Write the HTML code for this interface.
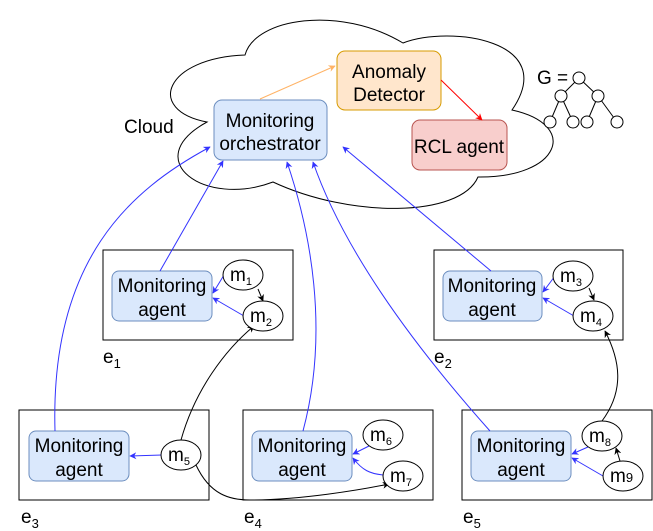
<!DOCTYPE html>
<html><head><meta charset="utf-8"><style>
html,body{margin:0;padding:0;background:#fff}
svg{display:block}
text{font-family:"Liberation Sans",Arial,sans-serif;font-size:19px;fill:#000}
</style></head><body>
<svg width="653" height="531" viewBox="0 0 653 531" xmlns="http://www.w3.org/2000/svg">
<defs>
<marker id="ab" viewBox="0 0 10 10" refX="9" refY="5" markerWidth="7" markerHeight="7" orient="auto"><path d="M0,0 L10,5 L0,10 L3,5 z" fill="#3333ff"/></marker>
<marker id="ak" viewBox="0 0 10 10" refX="9" refY="5" markerWidth="7" markerHeight="7" orient="auto"><path d="M0,0 L10,5 L0,10 L3,5 z" fill="#000"/></marker>
<marker id="ao" viewBox="0 0 10 10" refX="9" refY="5" markerWidth="7" markerHeight="7" orient="auto"><path d="M0,0 L10,5 L0,10 L3,5 z" fill="#ffb366"/></marker>
<marker id="ar" viewBox="0 0 10 10" refX="9" refY="5" markerWidth="7" markerHeight="7" orient="auto"><path d="M0,0 L10,5 L0,10 L3,5 z" fill="#ff0000"/></marker>
</defs>
<path d="M207,122 C145,110 165,58 245,55 C255,18 340,5 403,43 C450,25 560,40 512,110 C580,125 560,178 478,177 C460,218 350,218 273,182 C205,208 138,160 207,122 Z" fill="#fff" stroke="#000" stroke-width="1"/>
<text x="124" y="133">Cloud</text>
<rect x="214" y="100" width="113" height="60" rx="8" fill="#dae8fc" stroke="#6c8ebf"/>
<text x="270" y="127" text-anchor="middle">Monitoring</text>
<text x="270" y="150" text-anchor="middle">orchestrator</text>
<rect x="337" y="51" width="104" height="59" rx="8" fill="#ffe6cc" stroke="#d79b00"/>
<text x="389" y="78" text-anchor="middle">Anomaly</text>
<text x="389" y="101" text-anchor="middle">Detector</text>
<rect x="412" y="120" width="95" height="50" rx="8" fill="#f8cecc" stroke="#b85450"/>
<text x="459" y="153" text-anchor="middle">RCL agent</text>
<path d="M260,99 L335,66" stroke="#ffb366" fill="none" marker-end="url(#ao)"/>
<path d="M441,80 L482,120" stroke="#ff0000" fill="none" marker-end="url(#ar)"/>
<text x="537" y="84">G =</text>
<g stroke="#000" fill="#fff">
<line x1="579" y1="78" x2="561" y2="96"/><line x1="579" y1="78" x2="598" y2="96"/>
<line x1="561" y1="96" x2="550" y2="122"/><line x1="561" y1="96" x2="573" y2="122"/>
<line x1="598" y1="96" x2="587" y2="122"/><line x1="598" y1="96" x2="617" y2="122"/>
<circle cx="579" cy="78" r="6"/><circle cx="561" cy="96" r="6"/><circle cx="598" cy="96" r="6"/>
<circle cx="550" cy="122" r="6"/><circle cx="573" cy="122" r="6"/><circle cx="587" cy="122" r="6"/><circle cx="617" cy="122" r="6"/>
</g>
<g fill="none" stroke="#000">
<rect x="103" y="250" width="190" height="90"/>
<rect x="434" y="250" width="189" height="90"/>
<rect x="19" y="410" width="190" height="90"/>
<rect x="243" y="410" width="190" height="90"/>
<rect x="462" y="410" width="190" height="90"/>
</g>
<text x="103" y="363">e<tspan dy="5" style="font-size:13px">1</tspan></text>
<text x="434" y="363">e<tspan dy="5" style="font-size:13px">2</tspan></text>
<text x="21" y="523">e<tspan dy="5" style="font-size:13px">3</tspan></text>
<text x="244" y="523">e<tspan dy="5" style="font-size:13px">4</tspan></text>
<text x="463" y="523">e<tspan dy="5" style="font-size:13px">5</tspan></text>
<g fill="#dae8fc" stroke="#6c8ebf">
<rect x="112" y="271" width="100" height="50" rx="7"/>
<rect x="443" y="271" width="99" height="50" rx="7"/>
<rect x="29" y="431" width="100" height="50" rx="7"/>
<rect x="252" y="431" width="100" height="50" rx="7"/>
<rect x="471" y="431" width="100" height="50" rx="7"/>
</g>
<g text-anchor="middle">
<text x="162" y="292">Monitoring</text><text x="162" y="316">agent</text>
<text x="492" y="292">Monitoring</text><text x="492" y="316">agent</text>
<text x="79" y="452">Monitoring</text><text x="79" y="476">agent</text>
<text x="302" y="452">Monitoring</text><text x="302" y="476">agent</text>
<text x="521" y="452">Monitoring</text><text x="521" y="476">agent</text>
</g>
<g stroke="#3333ff" fill="none" marker-end="url(#ab)">
<path d="M160,271 L223,161"/>
<path d="M55,431 C50,260 130,190 210,147"/>
<path d="M303,431 C330,330 310,230 287,162"/>
<path d="M490,431 C400,330 340,240 313,162"/>
<path d="M491,271 L343,147"/>
<path d="M224,275 L213,293"/>
<path d="M244,316 L213,298"/>
<path d="M555,276 L543,292"/>
<path d="M574,316 L543,298"/>
<path d="M162,455 L130,456"/>
<path d="M369,446 L353,454"/>
<path d="M384,475 C370,474 362,470 353,458"/>
<path d="M588,447 L572,454"/>
<path d="M603,476 L572,458"/>
</g>
<g stroke="#000" fill="none" marker-end="url(#ak)">
<path d="M258,289 L263,301"/>
<path d="M589,288 L594,300"/>
<path d="M181,440 C195,390 225,350 254,326"/>
<path d="M196,465 C210,495 230,500 250,500 C300,500 360,490 389,484"/>
<path d="M602,421 C625,390 620,360 605,331"/>
<path d="M620,461 L616,448"/>
</g>
<g fill="#fff" stroke="#000">
<ellipse cx="243" cy="275" rx="20" ry="15"/>
<ellipse cx="263" cy="316" rx="20" ry="15"/>
<ellipse cx="573" cy="276" rx="20" ry="15"/>
<ellipse cx="593" cy="316" rx="20" ry="15"/>
<ellipse cx="181" cy="455" rx="20" ry="15"/>
<ellipse cx="383" cy="435" rx="20" ry="15"/>
<ellipse cx="403" cy="476" rx="20" ry="15"/>
<ellipse cx="602" cy="436" rx="20" ry="15"/>
<ellipse cx="623" cy="476" rx="20" ry="15"/>
</g>
<g style="font-size:17px">
<text x="230" y="281">m<tspan dy="4" style="font-size:11px">1</tspan></text>
<text x="250" y="322">m<tspan dy="4" style="font-size:11px">2</tspan></text>
<text x="560" y="282">m<tspan dy="4" style="font-size:11px">3</tspan></text>
<text x="580" y="322">m<tspan dy="4" style="font-size:11px">4</tspan></text>
<text x="168" y="461">m<tspan dy="4" style="font-size:11px">5</tspan></text>
<text x="370" y="441">m<tspan dy="4" style="font-size:11px">6</tspan></text>
<text x="390" y="482">m<tspan dy="4" style="font-size:11px">7</tspan></text>
<text x="589" y="442">m<tspan dy="4" style="font-size:11px">8</tspan></text>
<text x="610" y="482">m<tspan dy="0" style="font-size:13px">9</tspan></text>
</g>
</svg>
</body></html>
